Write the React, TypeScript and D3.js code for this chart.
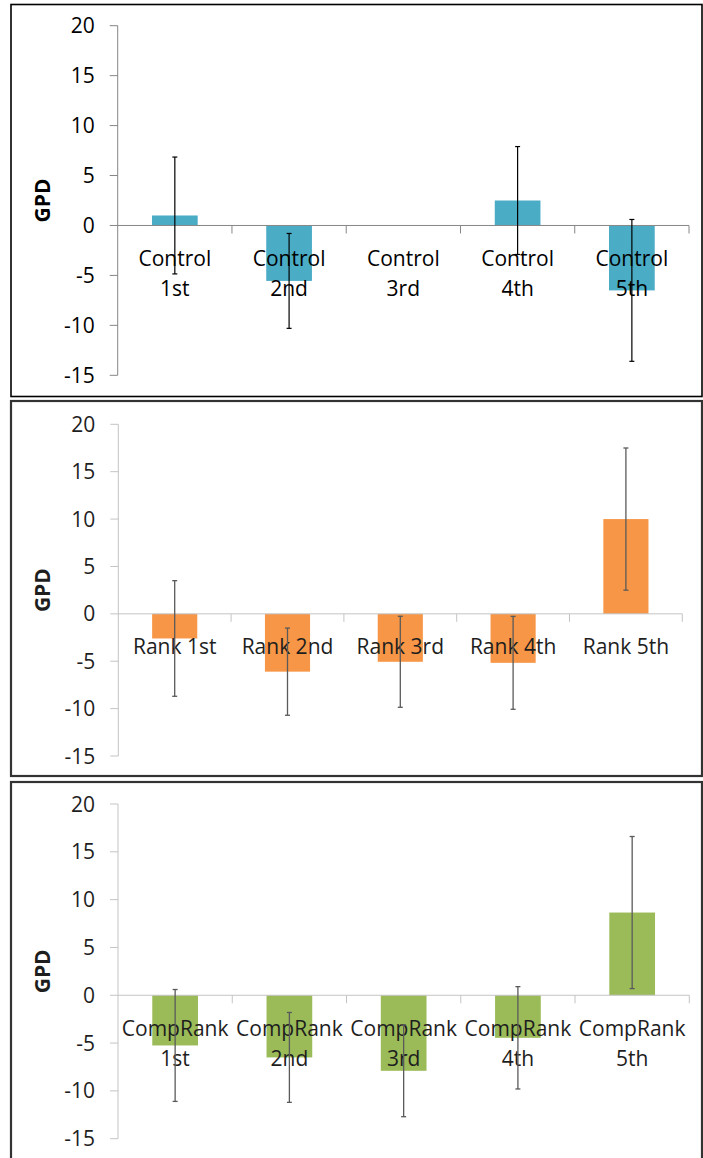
import React from "react";
import * as d3 from "d3";

// ---------- data ----------
const controlCategories = ["Control\n1st", "Control\n2nd", "Control\n3rd", "Control\n4th", "Control\n5th"];
const controlValues = [1.0, -5.55, 0, 2.5, -6.5];
const controlErrors = [5.85, 4.75, 0, 5.4, 7.1];

const rankCategories = ["Rank 1st", "Rank 2nd", "Rank 3rd", "Rank 4th", "Rank 5th"];
const rankValues = [-2.6, -6.1, -5.06, -5.17, 10.0];
const rankErrors = [6.1, 4.6, 4.8, 4.9, 7.5];

const compCategories = ["CompRank\n1st", "CompRank\n2nd", "CompRank\n3rd", "CompRank\n4th", "CompRank\n5th"];
const compValues = [-5.25, -6.5, -7.9, -4.45, 8.65];
const compErrors = [5.85, 4.7, 4.8, 5.35, 7.95];

const yTicks = [20, 15, 10, 5, 0, -5, -10, -15];
const yLabel = "GPD";

// ---------- layout ----------
const W = 703;
const H = 1158;
const FONT = "'Open Sans', 'DejaVu Sans', sans-serif";

type PanelCfg = {
  cats: string[];
  vals: number[];
  errs: number[];
  frame: [number, number, number, number]; // x0, y0, x1, y1
  xRange: [number, number];
  yRange: [number, number]; // pixel of -15, pixel of 20
  color: string;
  errColor: string;
  errWidth: number;
  axisColor: string;
  frameColor: string;
  frameWidth: number;
  textColor: string;
};

const panels: PanelCfg[] = [
  {
    cats: controlCategories,
    vals: controlValues,
    errs: controlErrors,
    frame: [11, 4.5, 702, 396.5],
    xRange: [117.7, 689],
    yRange: [375.3, 25.7],
    color: "#4BACC6",
    errColor: "#000000",
    errWidth: 1.2,
    axisColor: "#868686",
    frameColor: "#000000",
    frameWidth: 1.6,
    textColor: "#000000",
  },
  {
    cats: rankCategories,
    vals: rankValues,
    errs: rankErrors,
    frame: [11, 401, 702, 776],
    xRange: [118.3, 682.3],
    yRange: [756, 424.3],
    color: "#F79646",
    errColor: "#5a5a5a",
    errWidth: 1.3,
    axisColor: "#c4c4c4",
    frameColor: "#333333",
    frameWidth: 2.2,
    textColor: "#1e1e1e",
  },
  {
    cats: compCategories,
    vals: compValues,
    errs: compErrors,
    frame: [11, 782, 702, 1162],
    xRange: [118, 689.3],
    yRange: [1138.7, 804],
    color: "#9BBB59",
    errColor: "#5a5a5a",
    errWidth: 1.3,
    axisColor: "#c4c4c4",
    frameColor: "#333333",
    frameWidth: 2.2,
    textColor: "#1e1e1e",
  },
];

function Panel({ p }: { p: PanelCfg }) {
  const x = d3.scaleBand<string>().domain(p.cats).range(p.xRange).paddingInner(0).paddingOuter(0);
  const y = d3.scaleLinear().domain([-15, 20]).range(p.yRange);
  const bw = x.bandwidth();
  const barW = bw * 0.4;
  const y0 = y(0);
  const capW = 5;
  const [fx0, fy0, fx1, fy1] = p.frame;
  const yMid = (y(20) + y(-15)) / 2;
  const boundaries = p.cats.map((c) => (x(c) as number) + bw);

  return (
    <g>
      <rect x={fx0} y={fy0} width={fx1 - fx0} height={fy1 - fy0} fill="#ffffff" stroke={p.frameColor} strokeWidth={p.frameWidth} />
      {/* y axis */}
      <line x1={p.xRange[0]} x2={p.xRange[0]} y1={y(20)} y2={y(-15)} stroke={p.axisColor} strokeWidth={1} />
      {yTicks.map((t) => (
        <g key={t}>
          <line x1={p.xRange[0] - 8} x2={p.xRange[0]} y1={y(t)} y2={y(t)} stroke={p.axisColor} strokeWidth={1} />
          <text x={p.xRange[0] - 23} y={y(t)} dy="0.36em" textAnchor="end" fontFamily={FONT} fontSize={21} fill={p.textColor}>
            {t}
          </text>
        </g>
      ))}
      <text
        transform={`translate(43,${yMid}) rotate(-90)`}
        textAnchor="middle"
        dy="0.35em"
        fontFamily={FONT}
        fontWeight="bold"
        fontSize={21}
        fill={p.textColor}
      >
        {yLabel}
      </text>
      {/* bars */}
      {p.cats.map((c, i) => {
        const cx = (x(c) as number) + bw / 2;
        const v = p.vals[i];
        return (
          <rect key={c} x={cx - barW / 2} y={Math.min(y(v), y0)} width={barW} height={Math.abs(y(v) - y0)} fill={p.color} />
        );
      })}
      {/* x axis */}
      <line x1={p.xRange[0]} x2={p.xRange[1]} y1={y0} y2={y0} stroke={p.axisColor} strokeWidth={1} />
      {boundaries.map((bx, i) => (
        <line key={i} x1={bx} x2={bx} y1={y0} y2={y0 + 8} stroke={p.axisColor} strokeWidth={1} />
      ))}
      {/* category labels */}
      {p.cats.map((c) => {
        const cx = (x(c) as number) + bw / 2;
        const lines = c.split("\n");
        return (
          <text key={c} textAnchor="middle" fontFamily={FONT} fontSize={21} fill={p.textColor}>
            {lines.map((ln, k) => (
              <tspan key={k} x={cx} y={y0 + 33 + k * 30} dy="0.35em">
                {ln}
              </tspan>
            ))}
          </text>
        );
      })}
      {/* error bars */}
      {p.cats.map((c, i) => {
        if (p.errs[i] === 0) return null;
        const cx = (x(c) as number) + bw / 2;
        const hi = y(p.vals[i] + p.errs[i]);
        const lo = y(p.vals[i] - p.errs[i]);
        return (
          <g key={c} stroke={p.errColor} strokeWidth={p.errWidth}>
            <line x1={cx} x2={cx} y1={hi} y2={lo} />
            <line x1={cx - capW / 2} x2={cx + capW / 2} y1={hi} y2={hi} />
            <line x1={cx - capW / 2} x2={cx + capW / 2} y1={lo} y2={lo} />
          </g>
        );
      })}
    </g>
  );
}

export default function App() {
  return (
    <div style={{ position: "absolute", left: 0, top: 0, width: W, height: H, overflow: "hidden", background: "#fff" }}>
      <svg width={W} height={H} viewBox={`0 0 ${W} ${H}`}>
        <rect x={0} y={0} width={W} height={H} fill="#ffffff" />
        {panels.map((p, i) => (
          <Panel key={i} p={p} />
        ))}
      </svg>
    </div>
  );
}
